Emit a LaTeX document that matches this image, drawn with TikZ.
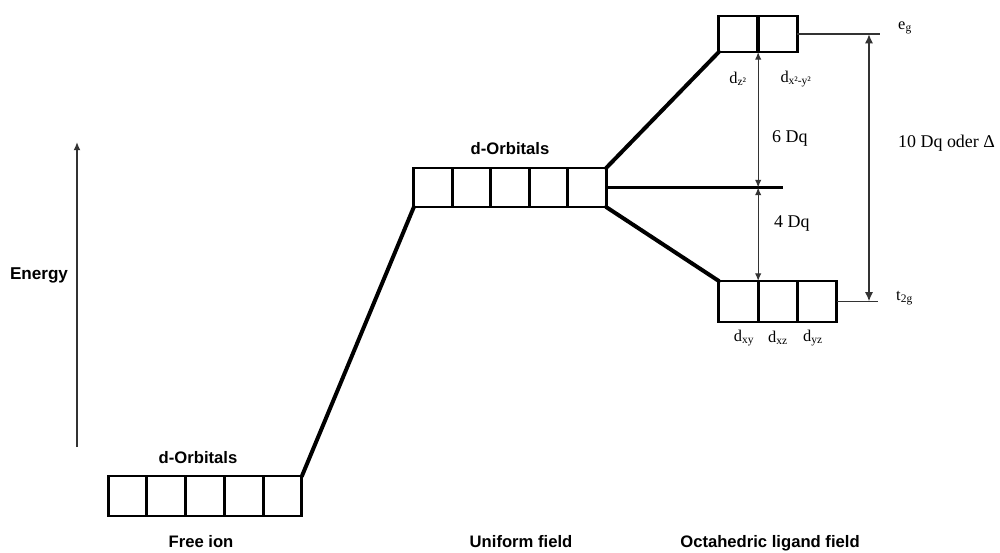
\documentclass[tikz,border=0pt]{standalone}
\usepackage{fontspec}
\setmainfont{Liberation Serif}
\newfontfamily\labelsans{Liberation Sans}
\usetikzlibrary{arrows.meta}
\definecolor{thinline}{HTML}{333333}
\begin{document}
\begin{tikzpicture}[x=0.03cm,y=-0.03cm,
  orb/.style={draw=black,line width=2.5pt,inner sep=0pt,outer sep=0pt,
    minimum width=1.16cm,minimum height=1.17cm},
  orbs/.style={orb,minimum width=1.18cm},
  level/.style={line width=3.4pt,line cap=round},
  thin/.style={draw=thinline,line width=1pt},
  gap/.style={thin,{Latex[length=6.5pt,width=5.5pt]}-{Latex[length=6.5pt,width=5.5pt]}},
  head/.style={font=\labelsans\bfseries\fontsize{14.2pt}{16pt}\selectfont,inner sep=0pt},
  serif/.style={font=\fontsize{15.3pt}{17pt}\selectfont,inner sep=0pt},
  sublab/.style={font=\fontsize{14pt}{16pt}\selectfont,inner sep=0pt}]
\useasboundingbox (0,0) rectangle (1000,552);

% free ion: five degenerate d orbitals
\foreach \i/\x in {1/127.4,2/166.2,3/205,4/243.8,5/282.6}
  \node[orb,minimum height=1.2cm] (fi\i) at (\x,496) {};
% uniform field
\foreach \i/\x in {1/433.2,2/471.6,3/510,4/548.4,5/586.8}
  \node[orb] (uf\i) at (\x,187.5) {};
% octahedral field: e_g and t_2g sets
\foreach \i/\x in {1/738.5,2/777.5}
  \node[orbs,minimum height=1.08cm] (eg\i) at (\x,34) {};
\foreach \i/\x in {1/738.5,2/777.8,3/817.1}
  \node[orbs,minimum height=1.23cm] (tg\i) at (\x,301.5) {};

% level correlation lines
\draw[level] (fi5.north east) -- (uf1.south west);
\draw[level] (uf5.north east) -- (eg1.south west);
\draw[level] (uf5.south east) -- (tg1.north west);
\coordinate (bary) at (783,187.5);
\coordinate (mid) at (eg1.south east |- uf5.east);
\draw[level,line cap=butt] (uf5.east) -- (bary);

% splitting arrows
\draw[gap] (mid) -- (eg1.south east);
\draw[gap] (mid) -- (mid |- tg1.north);
\coordinate (egend) at (880,34);
\coordinate (tgend) at (878,301.5);
\draw[thin] (eg2.east) -- (egend);
\draw[thin] (tg3.east) -- (tgend);
\coordinate (dtop) at (869,34);
\coordinate (dbot) at (869,301.5);
\draw[draw=thinline,line width=1.8pt,{Latex[length=8pt,width=7pt]}-{Latex[length=8pt,width=7pt]}] (dtop) -- (dbot);

% energy axis
\coordinate (ebot) at (77,447);
\coordinate (etop) at (77,142);
\draw[draw=thinline,line width=1.6pt,-{Latex[length=7pt,width=6pt]}] (ebot) -- (etop);
\node[head,font=\labelsans\bfseries\fontsize{14.6pt}{16pt}\selectfont] (energy) at (39,275) {Energy};

% headings
\node[head] (dfree) at (198,458) {d-Orbitals};
\node[head] (dunif) at (510,149) {d-Orbitals};
\node[head,anchor=base] (tfree) at (201,547.5) {Free ion};
\node[head,anchor=base] (tunif) at (521,547.5) {Uniform field};
\node[head,anchor=base] (toct) at (770,547.5) {Octahedric ligand field};

% splitting labels
\node[serif,anchor=west] (six) at (772,138) {6 Dq};
\node[serif,anchor=west] (four) at (774,224) {4 Dq};
\node[serif,anchor=west] (ten) at (898,143) {10 Dq oder \symbol{"0394}};
\node[sublab,anchor=west] (eglab) at (898,28) {e\textsubscript{g}};
\node[sublab,anchor=west] (tglab) at (896,298) {t\textsubscript{2g}};

% orbital names
\node[sublab] (dz) at (738,79) {d\textsubscript{z²}};
\node[sublab] (dx) at (796,79) {d\textsubscript{x²-y²}};
\node[sublab] (dxy) at (744,338) {d\textsubscript{xy}};
\node[sublab] (dxz) at (778,338) {d\textsubscript{xz}};
\node[sublab] (dyz) at (813,338) {d\textsubscript{yz}};
\end{tikzpicture}
\end{document}
